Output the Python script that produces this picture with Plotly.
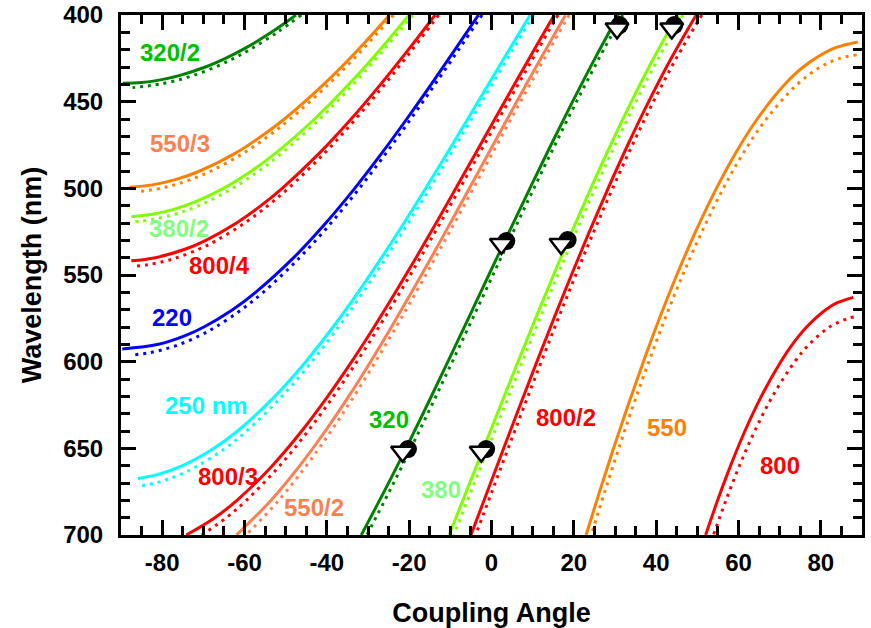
import plotly.graph_objects as go

FONT = "Liberation Sans, Arial, Helvetica, sans-serif"

# ---------------- data (coupling angle in degrees, wavelength in nm) ----------------
# 320/2
wl_320_2 = [400, 410, 420, 425, 430, 435, 438, 439.0, 439.4]
th_320_2 = [-47.5, -53.48, -60.46, -64.62, -69.5, -75.9, -81.8, -85.0, -89.6]
wl_320_2_d = [400, 410, 420, 425, 430, 435, 438, 440, 441, 441.9]
th_320_2_d = [-46.22, -52.04, -58.74, -62.62, -67.07, -72.6, -76.9, -80.88, -83.67, -87.2]

# 550/3
wl_550_3 = [400, 420, 440, 460, 470, 480, 490, 495, 498, 499.4]
th_550_3 = [-24.77, -32.4, -40.77, -50.3, -55.9, -62.4, -70.84, -76.8, -82.4, -87.9]
wl_550_3_d = [400, 420, 440, 460, 470, 480, 490, 495, 498, 500, 502]
th_550_3_d = [-23.82, -31.38, -39.59, -48.93, -54.27, -60.46, -68.13, -73.13, -77.03, -80.4, -86.0]

# 380/2
wl_380_2 = [400, 420, 440, 460, 480, 490, 500, 508, 512, 515, 516.4]
th_380_2 = [-20.02, -27.1, -34.67, -42.98, -52.6, -58.3, -65.1, -72.2, -77.0, -82.4, -87.5]
wl_380_2_d = [400, 420, 440, 460, 480, 490, 500, 508, 512, 515, 518, 519, 519.2]
th_380_2_d = [-19.1, -26.12, -33.58, -41.74, -51.1, -56.53, -62.9, -69.25, -73.24, -76.98, -82.35, -85.3, -86.5]

# 800/4
wl_800_4 = [400, 420, 440, 460, 480, 500, 510, 520, 530, 535, 540, 541.8]
th_800_4 = [-13.71, -20.19, -26.94, -34.1, -41.93, -50.85, -56.0, -61.95, -69.4, -74.3, -81.65, -87.5]
wl_800_4_d = [400, 420, 440, 460, 480, 500, 510, 520, 530, 535, 540, 542, 544, 545]
th_800_4_d = [-12.83, -19.26, -25.93, -33.01, -40.68, -49.35, -54.31, -59.94, -66.75, -70.98, -76.44, -79.3, -83.37, -87.0]

# 220
wl_220 = [400, 420, 440, 460, 480, 500, 520, 540, 560, 570, 580, 585, 590, 592.7]
th_220 = [-3.16, -8.87, -14.65, -20.59, -26.74, -33.23, -40.25, -48.06, -57.3, -62.9, -69.87, -74.4, -80.9, -89.7]
wl_220_d = [400, 420, 440, 460, 480, 500, 520, 540, 560, 570, 580, 585, 590, 593, 595, 596.1]
th_220_d = [-2.30, -7.98, -13.73, -19.61, -25.7, -32.1, -38.98, -46.61, -55.46, -60.74, -67.04, -70.9, -75.75, -79.7, -83.5, -87.0]

# 250
wl_250 = [400, 420, 440, 460, 480, 500, 520, 540, 560, 580, 600, 620, 640, 650, 660, 665, 667.4]
th_250 = [9.38, 4.30, -0.74, -5.78, -10.85, -15.99, -21.25, -26.71, -32.41, -38.5, -45.12, -52.63, -61.7, -67.43, -75.05, -80.97, -85.9]
wl_250_d = [400, 420, 440, 460, 480, 500, 520, 540, 560, 580, 600, 620, 640, 650, 660, 665, 668, 670, 671.8]
th_250_d = [10.25, 5.18, 0.15, -4.86, -9.9, -14.99, -20.21, -25.6, -31.22, -37.19, -43.66, -50.91, -59.5, -64.7, -71.25, -75.5, -78.8, -81.7, -85.5]

# 800/3
wl_800_3 = [400, 420, 440, 460, 480, 500, 520, 540, 560, 580, 600, 620, 640, 660, 680, 690, 700]
th_800_3 = [15.25, 10.36, 5.57, 0.82, -3.91, -8.65, -13.44, -18.32, -23.33, -28.52, -33.96, -39.78, -46.1, -53.25, -61.83, -67.2, -74.15]
th_800_3_d = [16.14, 11.26, 6.47, 1.74, -2.98, -7.68, -12.45, -17.28, -22.23, -27.35, -32.71, -38.4, -44.56, -51.44, -59.54, -64.43, -70.37]

# 550/2
wl_550_2 = [400, 420, 440, 460, 480, 500, 520, 540, 560, 580, 600, 620, 640, 660, 680, 700]
th_550_2 = [17.97, 13.16, 8.45, 3.82, -0.78, -5.37, -9.99, -14.65, -19.42, -24.31, -29.37, -34.7, -40.38, -46.57, -53.54, -61.93]
th_550_2_d = [18.88, 14.06, 9.36, 4.74, 0.15, -4.41, -9.0, -13.63, -18.34, -23.18, -28.18, -33.41, -38.97, -44.98, -51.69, -59.6]

# first order curves 320, 380, 800/2 share wavelengths
wl_m1 = [400, 425, 450, 475, 500, 525, 550, 575, 600, 625, 650, 675, 700]
th_320 = [30.87, 25.14, 19.69, 14.44, 9.33, 4.31, -0.66, -5.61, -10.59, -15.62, -20.77, -26.09, -31.63]
th_320_d = [31.87, 26.12, 20.65, 15.4, 10.3, 5.3, 0.34, -4.58, -9.52, -14.51, -19.6, -24.84, -30.29]
th_380 = [45.27, 39.38, 33.98, 28.93, 24.13, 19.52, 15.06, 10.71, 6.45, 2.24, -1.94, -6.12, -10.31]
th_380_d = [46.5, 40.53, 35.08, 29.99, 25.18, 20.57, 16.1, 11.76, 7.51, 3.32, -0.84, -4.99, -9.15]
th_800_2 = [49.73, 43.66, 38.18, 33.1, 28.33, 23.78, 19.41, 15.17, 11.03, 6.97, 2.96, -1.02, -4.99]
th_800_2_d = [51.08, 44.89, 39.34, 34.22, 29.43, 24.86, 20.47, 16.23, 12.1, 8.05, 4.06, 0.1, -3.84]

# 550
wl_550 = [415.6, 417.8, 420, 430, 440, 460, 480, 500, 525, 550, 575, 600, 625, 650, 675, 700]
th_550 = [89.0, 85.0, 82.42, 75.72, 71.26, 64.55, 59.21, 54.64, 49.57, 45.01, 40.81, 36.9, 33.19, 29.65, 26.25, 22.98]
wl_550_d = [423.0, 425, 430, 440, 460, 480, 500, 525, 550, 575, 600, 625, 650, 675, 700]
th_550_d = [88.7, 84.6, 79.9, 74.3, 66.76, 61.08, 56.32, 51.12, 46.45, 42.18, 38.22, 34.48, 30.93, 27.52, 24.23]

# 800
wl_800 = [562.9, 566, 570, 580, 590, 600, 620, 640, 660, 680, 700]
th_800 = [87.9, 84.0, 81.2, 76.54, 73.1, 70.27, 65.54, 61.56, 58.08, 54.93, 52.01]
wl_800_d = [574.2, 575, 580, 590, 600, 620, 640, 660, 680, 700]
th_800_d = [88.0, 86.66, 82.1, 77.19, 73.66, 68.26, 63.94, 60.24, 56.95, 53.91]

# measured points
circ_th = [31.1, 3.6, -20.3, 44.4, 18.5, -1.3]
circ_wl = [405.8, 530.4, 650.4, 405.8, 529.8, 650.4]
tri_th = [30.5, 2.4, -21.6, 43.8, 16.9, -2.5]
tri_wl = [407.8, 532.1, 652.0, 407.8, 532.1, 652.0]

# curve labels
label_text = ["320/2", "550/3", "380/2", "800/4", "220", "250 nm", "800/3", "550/2",
              "320", "380", "800/2", "550", "800"]
label_th = [-78.0, -75.6, -75.8, -66.1, -77.5, -69.2, -64.1, -43.2, -24.8, -12.2, 18.0, 42.7, 70.2]
label_wl = [421.4, 474.4, 522.9, 544.8, 574.8, 625.0, 666.0, 683.9, 633.1, 673.5, 632.0, 637.7, 659.7]
label_color = ["#00C000", "#FF7F50", "#80FF80", "#FF0000", "#0000FF", "#00FFFF", "#FF0000",
               "#FF7F50", "#00C000", "#80FF80", "#FF0000", "#FF8000", "#FF0000"]

x_tickvals = [-80, -60, -40, -20, 0, 20, 40, 60, 80]
x_ticktext = ["-80", "-60", "-40", "-20", "0", "20", "40", "60", "80"]
y_tickvals = [400, 450, 500, 550, 600, 650, 700]
y_ticktext = ["400", "450", "500", "550", "600", "650", "700"]

DKGREEN = "#008000"
ORANGE = "#FF8000"
CORAL = "#FF7F50"
LIME = "#80FF00"
RED = "#FF0000"
BLUE = "#0000FF"
CYAN = "#00FFFF"

curves = [
    (th_320_2, wl_320_2, th_320_2_d, wl_320_2_d, DKGREEN),
    (th_550_3, wl_550_3, th_550_3_d, wl_550_3_d, ORANGE),
    (th_380_2, wl_380_2, th_380_2_d, wl_380_2_d, LIME),
    (th_800_4, wl_800_4, th_800_4_d, wl_800_4_d, RED),
    (th_220, wl_220, th_220_d, wl_220_d, BLUE),
    (th_250, wl_250, th_250_d, wl_250_d, CYAN),
    (th_800_3, wl_800_3, th_800_3_d, wl_800_3, RED),
    (th_550_2, wl_550_2, th_550_2_d, wl_550_2, CORAL),
    (th_320, wl_m1, th_320_d, wl_m1, DKGREEN),
    (th_380, wl_m1, th_380_d, wl_m1, LIME),
    (th_800_2, wl_m1, th_800_2_d, wl_m1, RED),
    (th_550, wl_550, th_550_d, wl_550_d, ORANGE),
    (th_800, wl_800, th_800_d, wl_800_d, RED),
]

fig = go.Figure()
for th, wl, thd, wld, col in curves:
    fig.add_trace(go.Scatter(x=thd, y=wld, mode="lines",
                             line=dict(color=col, width=3, dash="3px,5px", shape="spline"),
                             hoverinfo="skip", showlegend=False))
for th, wl, thd, wld, col in curves:
    fig.add_trace(go.Scatter(x=th, y=wl, mode="lines",
                             line=dict(color=col, width=3, shape="spline"),
                             hoverinfo="skip", showlegend=False))

fig.add_trace(go.Scatter(x=circ_th, y=circ_wl, mode="markers", cliponaxis=False,
                         marker=dict(symbol="circle", size=18, color="black",
                                     line=dict(width=0)),
                         showlegend=False))
fig.add_trace(go.Scatter(x=tri_th, y=tri_wl, mode="markers", cliponaxis=False,
                         marker=dict(symbol="triangle-down", size=20, color="white",
                                     line=dict(width=2.5, color="black")),
                         showlegend=False))

for t, x, y, c in zip(label_text, label_th, label_wl, label_color):
    fig.add_annotation(x=x, y=y, text=t, showarrow=False, xanchor="center", yanchor="middle",
                       font=dict(family=FONT, size=24, color=c, weight="bold"))

axis_common = dict(
    showline=True, linewidth=3, linecolor="black", mirror="ticks",
    ticks="inside", ticklen=15, tickwidth=2.5, tickcolor="black",
    showgrid=False, zeroline=False, automargin=False,
    tickfont=dict(family=FONT, size=24, color="black", weight="bold"),
)

fig.update_layout(
    width=871, height=628,
    margin=dict(l=121, r=9, t=15, b=93, autoexpand=False),
    paper_bgcolor="white", plot_bgcolor="white",
    showlegend=False,
    xaxis=dict(range=[-90, 90], tickmode="array", tickvals=x_tickvals, ticktext=x_ticktext,
               minor=dict(tickmode="linear", tick0=0, dtick=5, ticks="inside", ticklen=9,
                          tickwidth=2.5, tickcolor="black", showgrid=False),
               ticklabelstandoff=4,
               title=dict(text="Coupling Angle", standoff=30,
                          font=dict(family=FONT, size=27, color="black", weight="bold")),
               **axis_common),
    yaxis=dict(range=[700, 400], tickmode="array", tickvals=y_tickvals, ticktext=y_ticktext,
               minor=dict(tickmode="linear", tick0=0, dtick=10, ticks="inside", ticklen=9,
                          tickwidth=2.5, tickcolor="black", showgrid=False),
               ticklabelstandoff=10,
               title=dict(text="Wavelength (nm)", standoff=14,
                          font=dict(family=FONT, size=27, color="black", weight="bold")),
               **axis_common),
)

fig.write_html("out.html")
